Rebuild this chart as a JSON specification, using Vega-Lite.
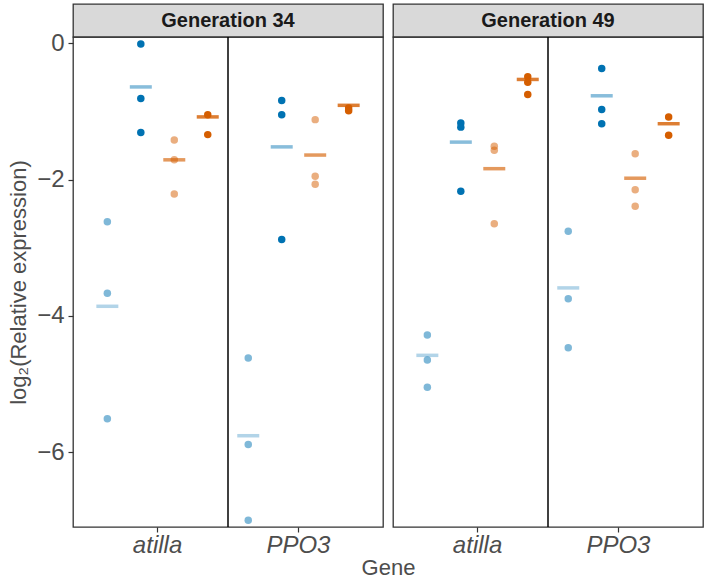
{
  "$schema": "https://vega.github.io/schema/vega-lite/v6.json",
  "padding": {"left": 6, "top": 3, "right": 5, "bottom": 0},
  "background": "white",
  "bounds": "flush",
  "datasets": {
    "panels": [
      {"generation": "Generation 34", "gene": "PPO3"},
      {"generation": "Generation 49", "gene": "PPO3"}
    ],
    "points": [
      {"generation": "Generation 34", "gene": "atilla", "group": "G1", "value": -2.62},
      {"generation": "Generation 34", "gene": "atilla", "group": "G1", "value": -3.67},
      {"generation": "Generation 34", "gene": "atilla", "group": "G1", "value": -5.51},
      {"generation": "Generation 34", "gene": "atilla", "group": "G2", "value": -0.01},
      {"generation": "Generation 34", "gene": "atilla", "group": "G2", "value": -0.81},
      {"generation": "Generation 34", "gene": "atilla", "group": "G2", "value": -1.31},
      {"generation": "Generation 34", "gene": "atilla", "group": "G3", "value": -1.42},
      {"generation": "Generation 34", "gene": "atilla", "group": "G3", "value": -1.71},
      {"generation": "Generation 34", "gene": "atilla", "group": "G3", "value": -2.21},
      {"generation": "Generation 34", "gene": "atilla", "group": "G4", "value": -1.05},
      {"generation": "Generation 34", "gene": "atilla", "group": "G4", "value": -1.34},
      {"generation": "Generation 34", "gene": "PPO3", "group": "G1", "value": -4.62},
      {"generation": "Generation 34", "gene": "PPO3", "group": "G1", "value": -5.89},
      {"generation": "Generation 34", "gene": "PPO3", "group": "G1", "value": -7.0},
      {"generation": "Generation 34", "gene": "PPO3", "group": "G2", "value": -0.84},
      {"generation": "Generation 34", "gene": "PPO3", "group": "G2", "value": -1.05},
      {"generation": "Generation 34", "gene": "PPO3", "group": "G2", "value": -2.88},
      {"generation": "Generation 34", "gene": "PPO3", "group": "G3", "value": -1.12},
      {"generation": "Generation 34", "gene": "PPO3", "group": "G3", "value": -1.95},
      {"generation": "Generation 34", "gene": "PPO3", "group": "G3", "value": -2.07},
      {"generation": "Generation 34", "gene": "PPO3", "group": "G4", "value": -0.95},
      {"generation": "Generation 34", "gene": "PPO3", "group": "G4", "value": -0.99},
      {"generation": "Generation 49", "gene": "atilla", "group": "G1", "value": -4.28},
      {"generation": "Generation 49", "gene": "atilla", "group": "G1", "value": -4.65},
      {"generation": "Generation 49", "gene": "atilla", "group": "G1", "value": -5.05},
      {"generation": "Generation 49", "gene": "atilla", "group": "G2", "value": -1.17},
      {"generation": "Generation 49", "gene": "atilla", "group": "G2", "value": -1.23},
      {"generation": "Generation 49", "gene": "atilla", "group": "G2", "value": -2.17},
      {"generation": "Generation 49", "gene": "atilla", "group": "G3", "value": -1.51},
      {"generation": "Generation 49", "gene": "atilla", "group": "G3", "value": -1.57},
      {"generation": "Generation 49", "gene": "atilla", "group": "G3", "value": -2.65},
      {"generation": "Generation 49", "gene": "atilla", "group": "G4", "value": -0.49},
      {"generation": "Generation 49", "gene": "atilla", "group": "G4", "value": -0.57},
      {"generation": "Generation 49", "gene": "atilla", "group": "G4", "value": -0.75},
      {"generation": "Generation 49", "gene": "PPO3", "group": "G1", "value": -2.76},
      {"generation": "Generation 49", "gene": "PPO3", "group": "G1", "value": -3.75},
      {"generation": "Generation 49", "gene": "PPO3", "group": "G1", "value": -4.47},
      {"generation": "Generation 49", "gene": "PPO3", "group": "G2", "value": -0.37},
      {"generation": "Generation 49", "gene": "PPO3", "group": "G2", "value": -0.97},
      {"generation": "Generation 49", "gene": "PPO3", "group": "G2", "value": -1.18},
      {"generation": "Generation 49", "gene": "PPO3", "group": "G3", "value": -1.62},
      {"generation": "Generation 49", "gene": "PPO3", "group": "G3", "value": -2.15},
      {"generation": "Generation 49", "gene": "PPO3", "group": "G3", "value": -2.39},
      {"generation": "Generation 49", "gene": "PPO3", "group": "G4", "value": -1.08},
      {"generation": "Generation 49", "gene": "PPO3", "group": "G4", "value": -1.35}
    ],
    "means": [
      {"generation": "Generation 34", "gene": "atilla", "group": "G1", "value": -3.86},
      {"generation": "Generation 34", "gene": "atilla", "group": "G2", "value": -0.64},
      {"generation": "Generation 34", "gene": "atilla", "group": "G3", "value": -1.71},
      {"generation": "Generation 34", "gene": "atilla", "group": "G4", "value": -1.08},
      {"generation": "Generation 34", "gene": "PPO3", "group": "G1", "value": -5.76},
      {"generation": "Generation 34", "gene": "PPO3", "group": "G2", "value": -1.52},
      {"generation": "Generation 34", "gene": "PPO3", "group": "G3", "value": -1.64},
      {"generation": "Generation 34", "gene": "PPO3", "group": "G4", "value": -0.91},
      {"generation": "Generation 49", "gene": "atilla", "group": "G1", "value": -4.58},
      {"generation": "Generation 49", "gene": "atilla", "group": "G2", "value": -1.45},
      {"generation": "Generation 49", "gene": "atilla", "group": "G3", "value": -1.84},
      {"generation": "Generation 49", "gene": "atilla", "group": "G4", "value": -0.53},
      {"generation": "Generation 49", "gene": "PPO3", "group": "G1", "value": -3.59},
      {"generation": "Generation 49", "gene": "PPO3", "group": "G2", "value": -0.77},
      {"generation": "Generation 49", "gene": "PPO3", "group": "G3", "value": -1.98},
      {"generation": "Generation 49", "gene": "PPO3", "group": "G4", "value": -1.18}
    ]
  },
  "columns": 2,
  "spacing": {"row": 0, "column": 10},
  "resolve": {"scale": {"x": "independent", "y": "independent", "xOffset": "independent"}},
  "concat": [
    {
      "width": 310, "height": 33,
      "data": {"name": "panels"},
      "transform": [{"filter": "datum.generation === 'Generation 34'"}],
      "view": {"fill": "#d9d9d9", "stroke": "#333333", "strokeWidth": 1.3},
      "mark": {"type": "text", "fontSize": 20, "fontWeight": "bold", "color": "#1a1a1a", "align": "center", "baseline": "middle", "font": "Liberation Sans"},
      "encoding": {"text": {"field": "generation", "type": "nominal"}}
    },
    {
      "width": 310, "height": 33,
      "data": {"name": "panels"},
      "transform": [{"filter": "datum.generation === 'Generation 49'"}],
      "view": {"fill": "#d9d9d9", "stroke": "#333333", "strokeWidth": 1.3},
      "mark": {"type": "text", "fontSize": 20, "fontWeight": "bold", "color": "#1a1a1a", "align": "center", "baseline": "middle", "font": "Liberation Sans"},
      "encoding": {"text": {"field": "generation", "type": "nominal"}}
    },
    {
      "width": 310, "height": 490,
      "layer": [
        {
          "data": {"name": "panels"},
          "transform": [{"filter": "datum.generation === 'Generation 34'"}],
          "mark": {"type": "rule", "color": "black", "strokeWidth": 1.5},
          "encoding": {
            "x": {"field": "gene", "type": "nominal", "bandPosition": 0,
                  "scale": {"type": "band", "domain": ["atilla", "PPO3"], "paddingInner": 0, "paddingOuter": 0.1},
                  "axis": {"title": "Gene", "titleX": 315, "titleAlign": "center", "labelAngle": 0, "labelPadding": 1, "titlePadding": 0}}
          }
        },
        {
          "data": {"name": "points"},
          "transform": [{"filter": "datum.generation === 'Generation 34'"}],
          "mark": {"type": "circle", "size": 56},
          "encoding": {
            "x": {"field": "gene", "type": "nominal"},
            "xOffset": {"field": "group", "type": "nominal", "scale": {"type": "band", "domain": ["G1", "G2", "G3", "G4"], "paddingInner": 0, "paddingOuter": 0.105}},
            "y": {"field": "value", "type": "quantitative",
                  "scale": {"domain": [-7.1, 0.093], "nice": false, "zero": false},
                  "axis": {"title": "log₂(Relative expression)", "values": [0, -2, -4, -6], "format": "d", "labelPadding": 4, "titlePadding": 6}},
            "color": {"field": "group", "type": "nominal", "scale": {"domain": ["G1", "G2", "G3", "G4"], "range": ["#0072B2", "#0072B2", "#D55E00", "#D55E00"]}, "legend": null},
            "opacity": {"field": "group", "type": "nominal", "scale": {"type": "ordinal", "domain": ["G1", "G2", "G3", "G4"], "range": [0.5, 1, 0.5, 1]}, "legend": null}
          }
        },
        {
          "data": {"name": "means"},
          "transform": [{"filter": "datum.generation === 'Generation 34'"}],
          "mark": {"type": "tick", "size": 22, "thickness": 3.5},
          "encoding": {
            "x": {"field": "gene", "type": "nominal"},
            "xOffset": {"field": "group", "type": "nominal"},
            "y": {"field": "value", "type": "quantitative"},
            "color": {"field": "group", "type": "nominal", "legend": null},
            "opacity": {"field": "group", "type": "nominal", "legend": null}
          }
        }
      ]
    },
    {
      "width": 310, "height": 490,
      "layer": [
        {
          "data": {"name": "panels"},
          "transform": [{"filter": "datum.generation === 'Generation 49'"}],
          "mark": {"type": "rule", "color": "black", "strokeWidth": 1.5},
          "encoding": {
            "x": {"field": "gene", "type": "nominal", "bandPosition": 0,
                  "scale": {"type": "band", "domain": ["atilla", "PPO3"], "paddingInner": 0, "paddingOuter": 0.1},
                  "axis": {"title": null, "labelAngle": 0, "labelPadding": 1}}
          }
        },
        {
          "data": {"name": "points"},
          "transform": [{"filter": "datum.generation === 'Generation 49'"}],
          "mark": {"type": "circle", "size": 56},
          "encoding": {
            "x": {"field": "gene", "type": "nominal"},
            "xOffset": {"field": "group", "type": "nominal", "scale": {"type": "band", "domain": ["G1", "G2", "G3", "G4"], "paddingInner": 0, "paddingOuter": 0.105}},
            "y": {"field": "value", "type": "quantitative",
                  "scale": {"domain": [-7.1, 0.093], "nice": false, "zero": false},
                  "axis": null},
            "color": {"field": "group", "type": "nominal", "scale": {"domain": ["G1", "G2", "G3", "G4"], "range": ["#0072B2", "#0072B2", "#D55E00", "#D55E00"]}, "legend": null},
            "opacity": {"field": "group", "type": "nominal", "scale": {"type": "ordinal", "domain": ["G1", "G2", "G3", "G4"], "range": [0.5, 1, 0.5, 1]}, "legend": null}
          }
        },
        {
          "data": {"name": "means"},
          "transform": [{"filter": "datum.generation === 'Generation 49'"}],
          "mark": {"type": "tick", "size": 22, "thickness": 3.5},
          "encoding": {
            "x": {"field": "gene", "type": "nominal"},
            "xOffset": {"field": "group", "type": "nominal"},
            "y": {"field": "value", "type": "quantitative"},
            "color": {"field": "group", "type": "nominal", "legend": null},
            "opacity": {"field": "group", "type": "nominal", "legend": null}
          }
        }
      ]
    }
  ],
  "config": {
    "font": "Liberation Sans",
    "view": {"stroke": "#333333", "strokeWidth": 1.3},
    "axis": {
      "domain": false, "grid": false,
      "tickColor": "#333333", "tickSize": 5, "tickWidth": 1.2,
      "labelColor": "#4d4d4d", "titleColor": "#4d4d4d",
      "labelFont": "Liberation Sans", "titleFont": "Liberation Sans",
      "labelFontSize": 24, "titleFontSize": 22, "titleFontWeight": "normal"
    },
    "axisX": {"labelFontStyle": "italic", "labelFontSize": 24, "titleFontSize": 22}
  }
}
